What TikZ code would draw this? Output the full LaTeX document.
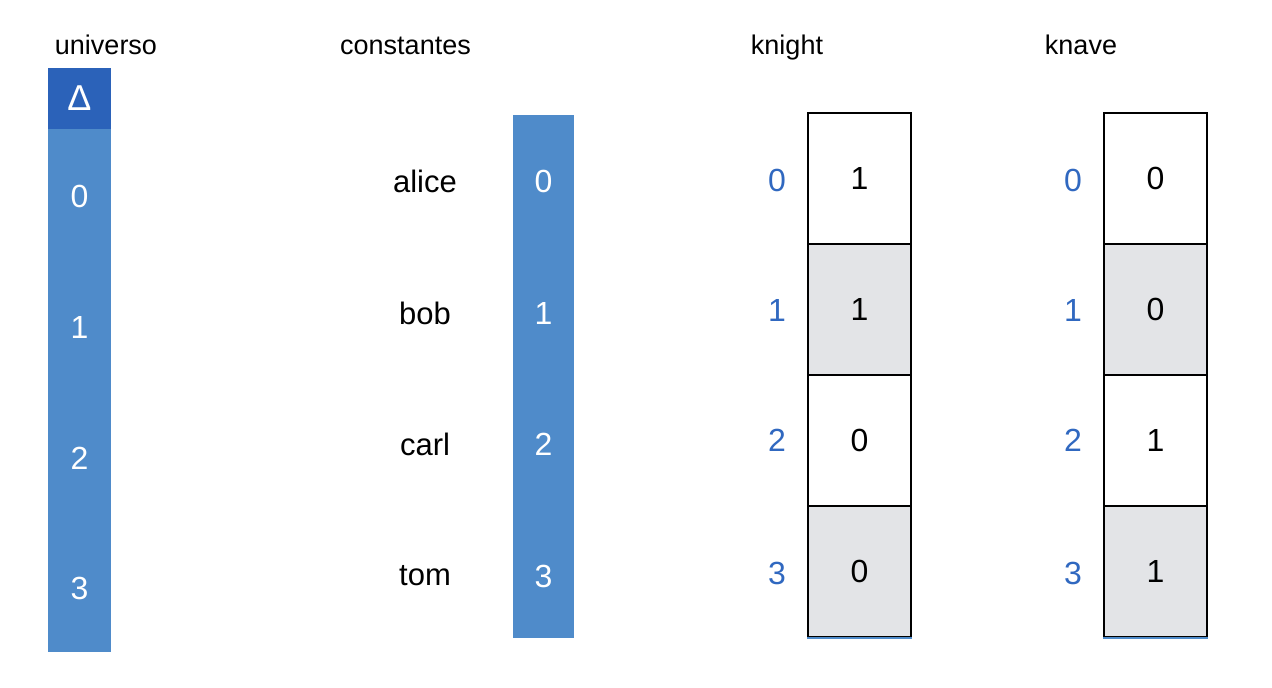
\documentclass[tikz,border=0pt]{standalone}
\usepackage{fontspec}
\setmainfont{Liberation Sans}
\definecolor{univdark}{RGB}{43,98,185}
\definecolor{univlight}{RGB}{79,139,202}
\definecolor{cellgray}{RGB}{227,228,231}
\definecolor{idxblue}{RGB}{48,104,192}
\tikzset{
  headtxt/.style={font=\fontsize{27}{31}\selectfont,text=black,anchor=base},
  consttxt/.style={font=\fontsize{31}{35}\selectfont,text=black},
  numtxt/.style={font=\fontsize{32}{36}\selectfont},
  barbox/.style={rectangle,fill=univlight,inner sep=0pt,minimum width=63pt},
  cellbox/.style={rectangle,draw=black,line width=1.6pt,inner sep=0pt,minimum width=103pt,minimum height=131pt,font=\fontsize{32}{36}\selectfont},
  idxtxt/.style={font=\fontsize{32}{36}\selectfont,text=idxblue}
}

\begin{document}
\begin{tikzpicture}[x=1pt,y=-1pt]
\useasboundingbox[fill=white] (0,0) rectangle (1272,688);
% universo
\node[headtxt] (tuniv) at (106,54) {universo};
\node[barbox,fill=univdark,minimum height=61pt,font=\fontsize{36}{40}\selectfont,text=white] (delta) at (79.5,98.5) {Δ};
\node[barbox,minimum height=523pt] (ubar) at (79.5,390.5) {};
\node[numtxt,text=white] (u0) at (79.5,196) {0};
\node[numtxt,text=white] (u1) at (79.5,327) {1};
\node[numtxt,text=white] (u2) at (79.5,458) {2};
\node[numtxt,text=white] (u3) at (79.5,588) {3};
% constantes
\node[headtxt] (tconst) at (405.5,54) {constantes};
\node[barbox,minimum width=61pt,minimum height=523pt] (cbar) at (543.5,376.5) {};
\node[consttxt] (alice) at (425,181) {alice};
\node[consttxt] (bob) at (425,313) {bob};
\node[consttxt] (carl) at (425,444) {carl};
\node[consttxt] (tom) at (425,576) {tom};
\node[numtxt,text=white] (c0) at (543.5,181) {0};
\node[numtxt,text=white] (c1) at (543.5,313) {1};
\node[numtxt,text=white] (c2) at (543.5,444) {2};
\node[numtxt,text=white] (c3) at (543.5,576) {3};
% knight
\node[headtxt] (tknight) at (787,54) {knight};
\node[cellbox,fill=white] (k0) at (859.5,178.5) {1};
\node[cellbox,fill=cellgray] (k1) at (859.5,309.5) {1};
\node[cellbox,fill=white] (k2) at (859.5,440.5) {0};
\node[cellbox,fill=cellgray] (k3) at (859.5,571.5) {0};
\draw[univlight,line width=2pt] (k3.south west) -- (k3.south east);
\node[idxtxt] (ki0) at (777,180) {0};
\node[idxtxt] (ki1) at (777,310) {1};
\node[idxtxt] (ki2) at (777,440) {2};
\node[idxtxt] (ki3) at (777,573) {3};
% knave
\node[headtxt] (tknave) at (1081,54) {knave};
\node[cellbox,fill=white] (n0) at (1155.5,178.5) {0};
\node[cellbox,fill=cellgray] (n1) at (1155.5,309.5) {0};
\node[cellbox,fill=white] (n2) at (1155.5,440.5) {1};
\node[cellbox,fill=cellgray] (n3) at (1155.5,571.5) {1};
\draw[univlight,line width=2pt] (n3.south west) -- (n3.south east);
\node[idxtxt] (ni0) at (1073,180) {0};
\node[idxtxt] (ni1) at (1073,310) {1};
\node[idxtxt] (ni2) at (1073,440) {2};
\node[idxtxt] (ni3) at (1073,573) {3};
\end{tikzpicture}
\end{document}
